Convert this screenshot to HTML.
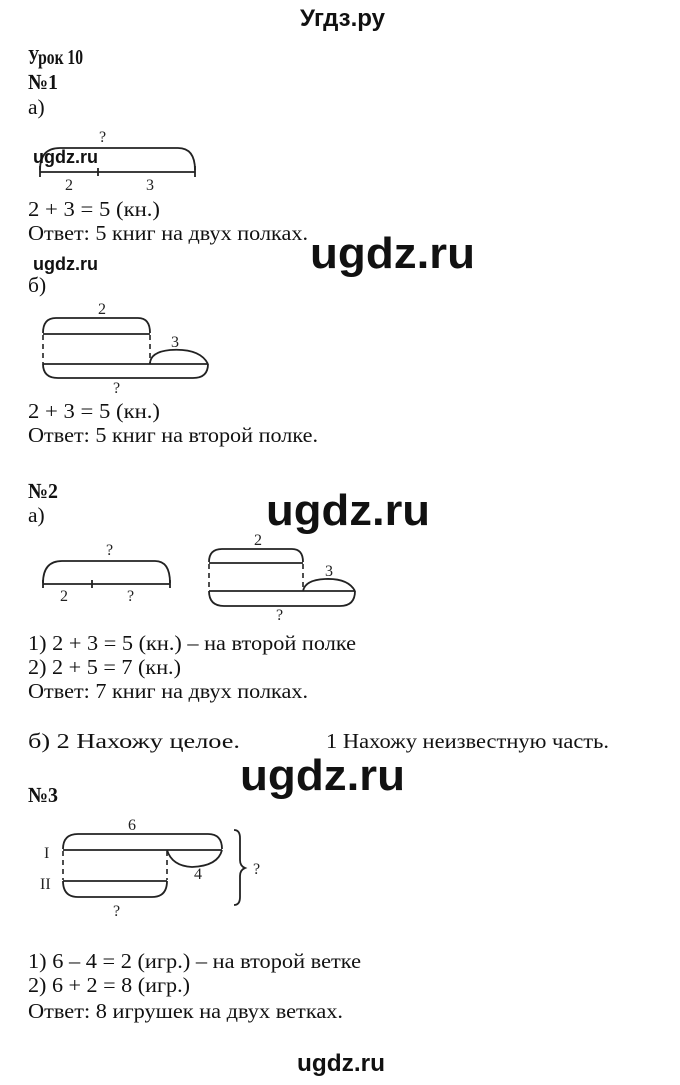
<!DOCTYPE html>
<html><head><meta charset="utf-8"><style>
html,body{margin:0;padding:0;background:#fff;}
svg{display:block;}
.t{font-family:"Liberation Serif",serif;font-size:21.5px;fill:#111;}
.b{font-weight:bold;}
.s{font-family:"Liberation Serif",serif;font-size:16px;fill:#222;}
.w{font-family:"Liberation Sans",sans-serif;font-weight:bold;fill:#111;}
.l{fill:none;stroke:#222;stroke-width:1.8;}
.d{fill:none;stroke:#222;stroke-width:1.6;stroke-dasharray:5 4;}
</style></head><body>
<svg width="680" height="1085" viewBox="0 0 680 1085" xmlns="http://www.w3.org/2000/svg">
<text class="w" x="300" y="26" font-size="24" textLength="85" lengthAdjust="spacingAndGlyphs">Угдз.ру</text>
<text class="t b" x="28" y="64" textLength="55" lengthAdjust="spacingAndGlyphs">Урок 10</text>
<text class="t b" x="28" y="89" textLength="30" lengthAdjust="spacingAndGlyphs">№1</text>
<text class="t" x="28" y="114">а)</text>

<text class="s" x="99" y="142">?</text>
<path class="l" d="M40 170 Q40 148 60 148 L178 148 Q195 148 195 170"/>
<path class="l" d="M40 172 L195 172 M40 166 L40 177 M98 168 L98 176 M195 166 L195 177"/>
<text class="s" x="65" y="190">2</text>
<text class="s" x="146" y="190">3</text>
<text class="w" x="33" y="163" font-size="18" textLength="65" lengthAdjust="spacingAndGlyphs">ugdz.ru</text>

<text class="t" x="28" y="216" textLength="132" lengthAdjust="spacingAndGlyphs">2 + 3 = 5 (кн.)</text>
<text class="t" x="28" y="240" textLength="280" lengthAdjust="spacingAndGlyphs">Ответ: 5 книг на двух полках.</text>
<text class="w" x="310" y="268" font-size="44" textLength="165" lengthAdjust="spacingAndGlyphs">ugdz.ru</text>
<text class="w" x="33" y="270" font-size="18" textLength="65" lengthAdjust="spacingAndGlyphs">ugdz.ru</text>
<text class="t" x="28" y="292">б)</text>

<text class="s" x="98" y="314">2</text>
<path class="l" d="M43 333 Q43 318 56 318 L138 318 Q150 318 150 333"/>
<path class="l" d="M43 334 L150 334"/>
<path class="d" d="M43 335 L43 364 M150 335 L150 364"/>
<path class="l" d="M43 364 L208 364"/>
<path class="l" d="M150 364 Q150 352 170 350 Q200 348 208 364"/>
<text class="s" x="171" y="347">3</text>
<path class="l" d="M43 364 Q43 378 58 378 L193 378 Q208 378 208 364"/>
<text class="s" x="113" y="393">?</text>

<text class="t" x="28" y="418" textLength="132" lengthAdjust="spacingAndGlyphs">2 + 3 = 5 (кн.)</text>
<text class="t" x="28" y="442" textLength="290" lengthAdjust="spacingAndGlyphs">Ответ: 5 книг на второй полке.</text>

<text class="t b" x="28" y="498" textLength="30" lengthAdjust="spacingAndGlyphs">№2</text>
<text class="t" x="28" y="522">а)</text>
<text class="w" x="266" y="525" font-size="44" textLength="164" lengthAdjust="spacingAndGlyphs">ugdz.ru</text>

<text class="s" x="106" y="555">?</text>
<path class="l" d="M43 583 Q43 561 62 561 L155 561 Q170 561 170 583"/>
<path class="l" d="M43 584 L170 584 M43 580 L43 588 M92 580 L92 588 M170 580 L170 588"/>
<text class="s" x="60" y="601">2</text>
<text class="s" x="127" y="601">?</text>

<text class="s" x="254" y="545">2</text>
<path class="l" d="M209 562 Q209 549 222 549 L292 549 Q303 549 303 562"/>
<path class="l" d="M209 563 L303 563"/>
<path class="d" d="M209 564 L209 591 M303 564 L303 591"/>
<path class="l" d="M209 591 L355 591"/>
<path class="l" d="M303 591 Q305 580 325 579 Q348 578 355 591"/>
<text class="s" x="325" y="576">3</text>
<path class="l" d="M209 591 Q209 606 224 606 L340 606 Q355 606 355 591"/>
<text class="s" x="276" y="620">?</text>

<text class="t" x="28" y="650" textLength="328" lengthAdjust="spacingAndGlyphs">1) 2 + 3 = 5 (кн.) – на второй полке</text>
<text class="t" x="28" y="674" textLength="153" lengthAdjust="spacingAndGlyphs">2) 2 + 5 = 7 (кн.)</text>
<text class="t" x="28" y="698" textLength="280" lengthAdjust="spacingAndGlyphs">Ответ: 7 книг на двух полках.</text>

<text class="t" x="28" y="748" textLength="212" lengthAdjust="spacingAndGlyphs">б)  2 Нахожу целое.</text>
<text class="t" x="326" y="748" textLength="283" lengthAdjust="spacingAndGlyphs">1 Нахожу неизвестную часть.</text>
<text class="w" x="240" y="790" font-size="44" textLength="165" lengthAdjust="spacingAndGlyphs">ugdz.ru</text>
<text class="t b" x="28" y="802" textLength="30" lengthAdjust="spacingAndGlyphs">№3</text>

<text class="s" x="128" y="830">6</text>
<path class="l" d="M63 849 Q63 834 78 834 L208 834 Q222 834 222 849"/>
<path class="l" d="M63 850 L222 850"/>
<text class="s" x="44" y="858" font-family="Liberation Sans">I</text>
<path class="l" d="M167 850 Q172 866 192 867 Q218 866 222 850"/>
<text class="s" x="194" y="879">4</text>
<path class="d" d="M63 851 L63 880 M167 851 L167 880"/>
<path class="l" d="M63 881 L167 881"/>
<text class="s" x="40" y="889" font-family="Liberation Sans">II</text>
<path class="l" d="M63 881 Q63 897 78 897 L152 897 Q167 897 167 881"/>
<text class="s" x="113" y="916">?</text>
<path class="l" d="M234 830 Q240 830 240 838 L240 860 Q240 866 245 868 Q240 870 240 876 L240 897 Q240 905 234 905"/>
<text class="s" x="253" y="874">?</text>

<text class="t" x="28" y="968" textLength="333" lengthAdjust="spacingAndGlyphs">1) 6 – 4 = 2 (игр.) – на второй ветке</text>
<text class="t" x="28" y="992" textLength="162" lengthAdjust="spacingAndGlyphs">2) 6 + 2 = 8 (игр.)</text>
<text class="t" x="28" y="1018" textLength="315" lengthAdjust="spacingAndGlyphs">Ответ: 8 игрушек на двух ветках.</text>

<text class="w" x="297" y="1071" font-size="24" textLength="88" lengthAdjust="spacingAndGlyphs">ugdz.ru</text>
</svg>
</body></html>
